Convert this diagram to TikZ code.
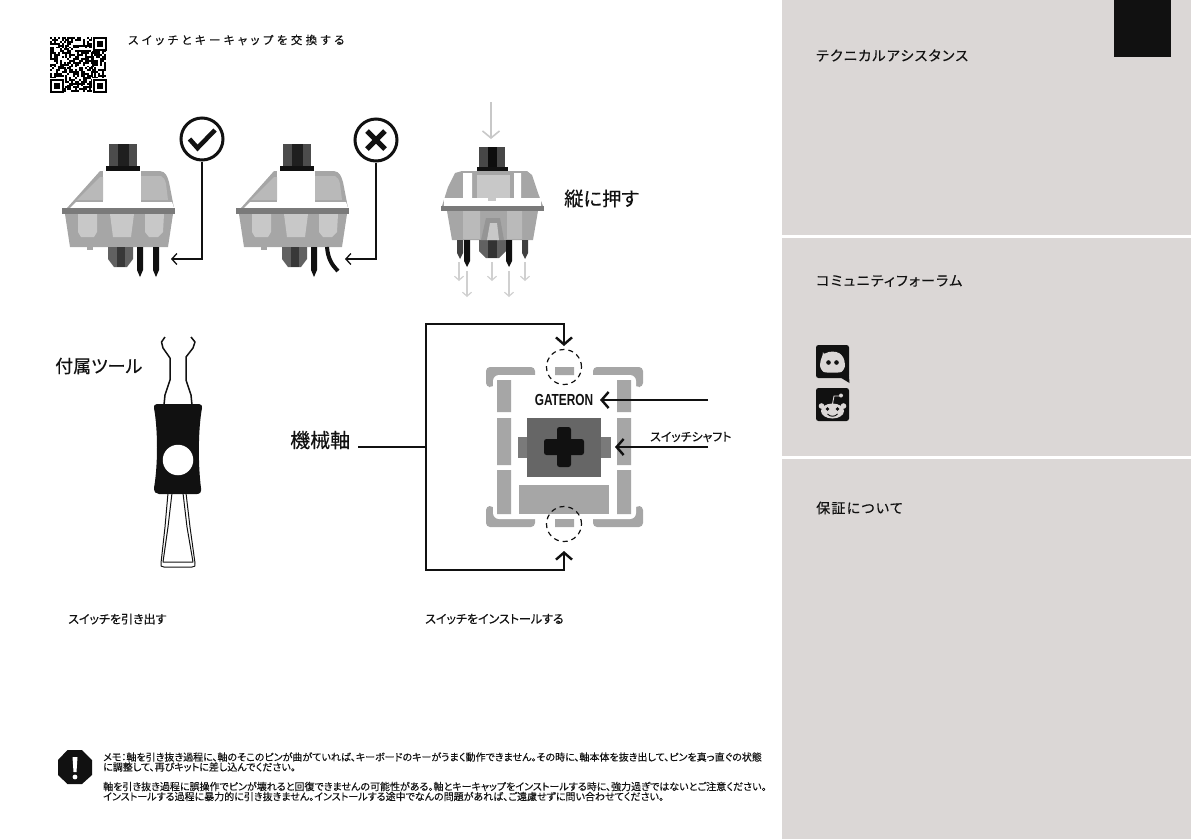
\documentclass[tikz,border=0pt]{standalone}
\usepackage{fontspec}
\usetikzlibrary{arrows.meta,calc}
\newfontfamily\jp[RawFeature=+palt,FakeBold=0.35]{Noto Sans CJK JP}
\newfontfamily\jpnote[RawFeature=+palt,FakeBold=0.25]{Noto Sans CJK JP}
\newfontfamily\jpsp[RawFeature=+palt,LetterSpace=30,FakeBold=0.25]{Noto Sans CJK JP}
\newfontfamily\jphd[RawFeature=+palt,LetterSpace=9,FakeBold=0.35]{Noto Sans CJK JP}
\newfontfamily\narrowb{Liberation Sans}
\definecolor{panel}{HTML}{DBD7D6}
\definecolor{grayA}{HTML}{A6A6A6}
\definecolor{grayB}{HTML}{C8C8C8}
\definecolor{grayC}{HTML}{7A7A7A}
\definecolor{ink}{HTML}{111111}
\tikzset{
  lbl/.style={inner sep=0pt,anchor=west,text=ink,font=\jp},
  fs/.style={font=\jp\fontsize{#1}{#1}\selectfont},
  hd/.style={inner sep=0pt,anchor=west,text=ink,font=\jphd\fontsize{14}{14}\selectfont},
  noteline/.style={inner sep=0pt,anchor=west,text=ink,font=\jpnote\fontsize{10}{10}\selectfont},
  thinarrow/.style={draw=ink,line width=1.3pt,-{Straight Barb[length=5pt,width=11pt,line width=1.3pt]}},
  boldarrow/.style={draw=ink,line width=2.4pt,-{Straight Barb[length=7pt,width=16pt,line width=2.4pt]}},
  palearrow/.style={draw=grayB!85!white,line width=1.2pt,-{Straight Barb[length=4pt,width=9pt,line width=1.2pt]}},
  dashring/.style={circle,draw=ink,line width=1.2pt,dashed,dash pattern=on 5pt off 4pt,minimum size=35pt,inner sep=0pt},
  badge/.style={circle,draw=ink,line width=3pt,fill=white,minimum size=42pt,inner sep=0pt},
}
\newcommand{\swside}{%
  \fill[grayA] (65,214) -- (173,214) -- (168,247) -- (70,247) -- cycle;
  \fill[grayA] (87,247) rectangle (93,250);
  \fill[grayB] (78,214) -- (97,214) -- (97,232) -- (94,237) -- (81,237) -- (78,232) -- cycle;
  \fill[grayB] (110,214) -- (134,214) -- (131,237) -- (113,237) -- cycle;
  \fill[grayB] (145,214) -- (164,214) -- (163,232) -- (158,237) -- (149,237) -- (145,232) -- cycle;
  \fill[grayA] (67,208) -- (92,180) -- (100,171) -- (160,171) .. controls (166,172) and (167,176) .. (169,182) -- (174,208) -- cycle;
  \fill[white] (103,171) rectangle (141,202);
  \fill[white] (70,208) -- (76,202) -- (172,202) -- (174,208) -- cycle;
  \fill[grayB!80!gray] (77,200) -- (100,177) -- (103,177) -- (103,200) -- cycle;
  \fill[grayB!80!gray] (141,176) -- (161,176) .. controls (164,177) and (165,180) .. (166,184) -- (168,200) -- (141,200) -- cycle;
  \fill[grayC] (62,208) rectangle (175,214);
  \fill[black!70] (109,144) rectangle (137,166);
  \fill[black!88] (118,144) rectangle (129,166);
  \fill[ink] (106,166) rectangle (140,171);
  \fill[black!62] (108,247) -- (133,247) -- (133,259) -- (127,267) -- (114,267) -- (108,259) -- cycle;
  \fill[black!78] (117,247) -- (125,247) -- (125,267) -- (117,267) -- cycle;
  \fill[ink] (137,247) -- (143,247) -- (143,270) -- (140,277) -- (137,270) -- cycle;
}
\begin{document}
\begin{tikzpicture}[x=1pt,y=-1pt]
\useasboundingbox (0,0) rectangle (1191,839);
% right panels
\fill[panel] (782,0) rectangle (1191,839);
\fill[white] (782,234.5) rectangle (1191,237.5);
\fill[white] (782,456) rectangle (1191,459);
\fill[ink] (1114,0) rectangle (1171,57);
\node[hd] (hA) at (816,55.5) {テクニカルアシスタンス};
\node[hd] (hB) at (816,281) {コミュニティフォーラム};
\node[hd] (hC) at (816,508) {保証について};
% discord
\fill[ink,rounded corners=2.5pt] (816,345) rectangle (849,378);
\fill[ink] (838,376) -- (849,376) -- (849.5,383) -- cycle;
\fill[panel,rounded corners=3pt] (823,355) .. controls (829,351) and (836,351) .. (842,355) .. controls (845,361) and (845,366) .. (844,370) .. controls (840,373) and (825,373) .. (821,370) .. controls (820,366) and (820,361) .. (823,355) -- cycle;
\fill[ink] (828.5,362.5) circle (2.3pt) (836.5,362.5) circle (2.3pt);
% reddit
\fill[ink,rounded corners=2.5pt] (816,388) rectangle (849,421);
\fill[panel] (832.5,411) ellipse (11.5pt and 7.5pt);
\fill[panel] (821.5,406) circle (2.8pt) (843.5,406) circle (2.8pt);
\draw[panel,line width=.9pt] (832.5,404) -- (834,396) -- (840,396);
\fill[panel] (841,395.5) circle (2pt);
\fill[ink] (827.5,409) circle (1.9pt) (837.5,409) circle (1.9pt);
\draw[ink,line width=.9pt] (827.5,414) .. controls (830,417) and (835,417) .. (837.5,414);
% QR
\pgfmathsetseed{4711}
\foreach \r in {0,...,28}{\foreach \c in {0,...,28}{
  \pgfmathparse{rnd>0.45?1:0}
  \ifnum\pgfmathresult=1
    \fill[black] ({50+\c*1.93},{37+\r*1.9}) rectangle ++(2,1.97);
  \fi}}
\foreach \px/\py in {93/37,50/79,93/79}{
  \fill[white] ({\px-1.5},{\py-1.5}) rectangle ++(15.5,15.5);
  \fill[black] (\px,\py) rectangle ++(13.5,13.5);
  \fill[white] ({\px+2},{\py+2}) rectangle ++(9.5,9.5);
  \fill[black] ({\px+4},{\py+4}) rectangle ++(5.5,5.5);
}
\node[inner sep=0pt,anchor=west,text=ink,font=\jpsp\fontsize{11.4}{11.4}\selectfont] (title) at (128,40) {スイッチとキーキャップを交換する};
% switches side views
\swside
\begin{scope}[xshift=174pt]
  \swside
  \draw[ink,line width=4pt] (153,247) .. controls (154,258) and (157,264) .. (164,271);
\end{scope}
\fill[ink] (153,247) -- (159,247) -- (159,270) -- (156,277) -- (153,270) -- cycle;
\node[badge] (ok) at (202,139) {};
\draw[ink,line width=4.6pt] (189.5,139) -- (197.5,148) -- (215,130);
\node[badge] (no) at (376,140) {};
\draw[ink,line width=5pt] (367,131) -- (385,149) (385,131) -- (367,149);
\coordinate (okT) at (171,259);
\coordinate (noT) at (345,259);
\draw[thinarrow] (ok.south) |- (okT);
\draw[thinarrow] (no.south) |- (noT);
% third switch
\coordinate (pressA) at (491,102);
\coordinate (pressB) at (491,139);
\draw[draw=grayB,line width=1.8pt,-{Straight Barb[length=7pt,width=17pt,line width=1.6pt]}] (pressA) -- (pressB);
\fill[grayA] (442,206) -- (448,187) -- (455,173) -- (462,171) -- (527,171) -- (532,175) -- (538,193) -- (543,206) -- cycle;
\fill[white] (463,173) rectangle (472,198) (514,173) rectangle (521,198);
\fill[white] (444,198) rectangle (541,206);
\fill[grayB] (477,175) rectangle (510,198);
\fill[grayB] (488,198) rectangle (496,201);
\fill[grayA] (447,211) -- (538,211) -- (533,240) -- (452,240) -- cycle;
\fill[grayB!60!grayA] (463,211) rectangle (480,239) (507,211) rectangle (522,239);
\fill[black!62] (479,240) -- (506,240) -- (506,251) -- (499,258) -- (486,258) -- (479,251) -- cycle;
\fill[black!80] (488,240) rectangle (497,258);
\fill[grayC!80!white] (481,240) -- (486,218) -- (500,218) -- (504,240) -- cycle;
\fill[grayB] (487,240) -- (490,223) -- (497,223) -- (499,240) -- cycle;
\fill[grayC] (441,206) rectangle (544,211);
\fill[black!72] (479,147) rectangle (505,167);
\fill[black!95] (488,147) rectangle (497,167);
\fill[ink] (477,167) rectangle (508,171);
\foreach \xa in {457,522}{\fill[black!75] (\xa,240) -- ({\xa+6},240) -- ({\xa+6},253) -- ({\xa+3},259) -- (\xa,253) -- cycle;}
\foreach \xa in {464,506}{\fill[ink] (\xa,240) -- ({\xa+6},240) -- ({\xa+6},261) -- ({\xa+3},267) -- (\xa,261) -- cycle;}
\foreach \n/\xa/\ya/\yb in {a/459/262/281,b/467/271/297,c/492/262/281,d/509/271/297,e/525/262/281}{
  \coordinate (dn\n1) at (\xa,\ya);
  \coordinate (dn\n2) at (\xa,\yb);
  \draw[palearrow] (dn\n1) -- (dn\n2);
}
\node[lbl,fs=19.3] (press) at (564,198.5) {縦に押す};
% tool
\node[lbl,fs=18] (tool) at (55,366) {付属ツール};
\draw[ink,line width=1.5pt,line join=round] (165,337) -- (161.5,342) -- (163,348) -- (170,358) -- (170,380) -- (165,395) -- (164,405);
\draw[ink,line width=1.5pt,line join=round] (191,337) -- (195,342) -- (193,348) -- (186,357) -- (186,380) -- (191,395) -- (192,405);
\draw[ink,line width=1pt,line join=round] (168,493) -- (165,527) -- (161,563) .. controls (160.5,566) and (161,567) .. (164,567) -- (192,567) .. controls (195,567) and (195.5,566) .. (195,563) -- (190,527) -- (186,493);
\draw[ink,line width=1pt,line join=round] (172,493) -- (168,527) -- (163,562) -- (193,562) -- (187,527) -- (183,493);
\fill[ink] (157,404) -- (199,404) .. controls (202,404) and (202,406) .. (202,408) .. controls (198,430) and (198,465) .. (201,488) .. controls (201.5,492) and (200,494) .. (197,494) -- (159,494) .. controls (156,494) and (154,492) .. (154,488) .. controls (158,465) and (158,430) .. (154,408) .. controls (154,406) and (154,404) .. (157,404) -- cycle;
\node[circle,fill=white,minimum size=30.5pt,inner sep=0pt] (hole) at (178,460) {};
% top view
\fill[grayA,rounded corners=4pt] (486,387) -- (486,367) -- (535,367) -- (535,380) -- (500,380) -- (493,387) -- cycle;
\fill[grayA,rounded corners=4pt] (643,387) -- (643,367) -- (593,367) -- (593,380) -- (628,380) -- (636,387) -- cycle;
\fill[grayA,rounded corners=4pt] (486,506) -- (486,527) -- (535,527) -- (535,515) -- (500,515) -- (493,506) -- cycle;
\fill[grayA,rounded corners=4pt] (643,506) -- (643,527) -- (593,527) -- (593,515) -- (628,515) -- (636,506) -- cycle;
\fill[white,rounded corners=6pt] (493,375) rectangle (636,519);
\fill[grayA] (555,367) rectangle (574,375) (555,519) rectangle (574,527);
\fill[grayA] (497,380) rectangle (511,412) (497,418) rectangle (511,465) (497,470) rectangle (511,514);
\fill[grayA] (617,380) rectangle (631,412) (617,418) rectangle (631,465) (617,470) rectangle (631,514);
\fill[grayA] (519,485) rectangle (609,514);
\fill[black!52] (518,437) rectangle (611,458);
\fill[black!60] (527,418) rectangle (601,477);
\fill[ink,rounded corners=2.5pt] (557,427) rectangle (571,467);
\fill[ink,rounded corners=2.5pt] (544,439) rectangle (584,455);
\node[inner sep=0pt,text=ink,font=\narrowb\bfseries\fontsize{16}{16}\selectfont,xscale=.74] (brand) at (564,400) {GATERON};
\node[dashring] (ringT) at (564,367) {};
\node[dashring] (ringB) at (564,524) {};
\node[lbl,fs=20] (axis) at (290,440) {機械軸};
\coordinate (axA) at (358,447);
\coordinate (axB) at (426,447);
\coordinate (axT) at (564,346);
\coordinate (axU) at (564,551);
\draw[ink,line width=2.4pt] (axA) -- (axB);
\draw[boldarrow] (axB) |- ($(axT)+(0,-22)$) -- (axT);
\draw[boldarrow] (axB) |- ($(axU)+(0,19)$) -- (axU);
\coordinate (gA) at (708,400);
\coordinate (gB) at (600,400);
\coordinate (sA) at (708,447);
\coordinate (sB) at (615,447);
\draw[boldarrow] (gA) -- (gB);
\draw[boldarrow] (sA) -- (sB);
\node[lbl,fs=11.9] (shaft) at (650,437) {スイッチシャフト};
\node[lbl,fs=12] (capA) at (68,619) {スイッチを引き出す};
\node[lbl,fs=12] (capB) at (425,619) {スイッチをインストールする};
% warning
\fill[ink] (67.5,750) -- (82,750) -- (92,760) -- (92,775) -- (82,784) -- (67.5,784) -- (58,775) -- (58,760) -- cycle;
\fill[white] (72.5,757) -- (77.5,757) -- (76.5,772) -- (73.5,772) -- cycle;
\fill[white] (75,777) circle (2.4pt);
\node[noteline] (n1) at (103,757) {メモ：軸を引き抜き過程に、軸のそこのピンが曲がていれば、キーボードのキーがうまく動作できません。その時に、軸本体を抜き出して、ピンを真っ直ぐの状態};
\node[noteline] (n2) at (103,767) {に調整して、再びキットに差し込んでください。};
\node[noteline] (n3) at (103,786.5) {軸を引き抜き過程に誤操作でピンが壊れると回復できませんの可能性がある。軸とキーキャップをインストールする時に、強力過ぎではないとご注意ください。};
\node[noteline] (n4) at (103,796.5) {インストールする過程に暴力的に引き抜きません。インストールする途中でなんの問題があれば、ご遠慮せずに問い合わせてください。};
\end{tikzpicture}
\end{document}
